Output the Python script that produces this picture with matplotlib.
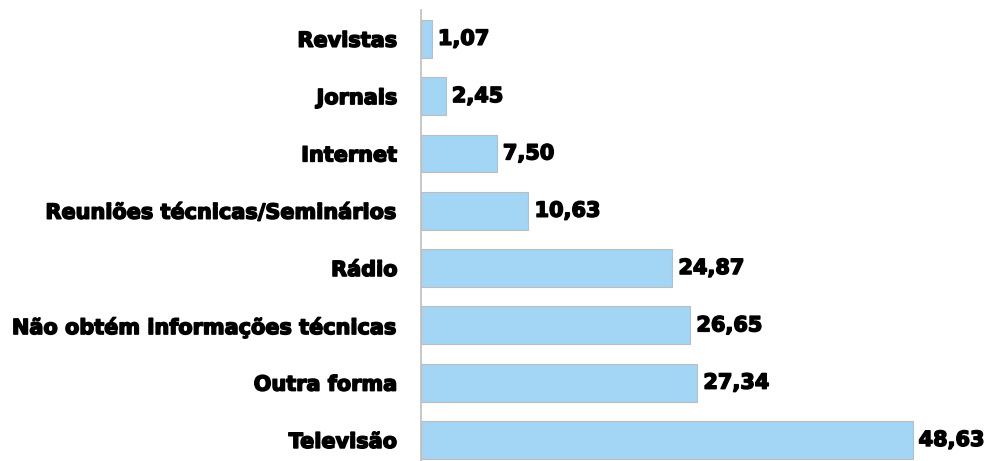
import matplotlib
matplotlib.use("Agg")
import matplotlib.pyplot as plt
import matplotlib.patheffects as pe

categories = ["Revistas", "Jornais", "Internet", "Reuniões técnicas/Seminários",
              "Rádio", "Não obtém informações técnicas", "Outra forma", "Televisão"]
values = [1.07, 2.45, 7.50, 10.63, 24.87, 26.65, 27.34, 48.63]
labels = ["1,07", "2,45", "7,50", "10,63", "24,87", "26,65", "27,34", "48,63"]

plt.rcParams['font.family'] = ['DejaVu Sans']
heavy = [pe.withStroke(linewidth=1.1, foreground="black")]

fig = plt.figure(figsize=(9.87, 4.61), dpi=100)
ax = fig.add_axes([0.4266, -0.0165, 0.5734, 0.9945])

y = list(range(len(categories)))
ax.barh(y, values, height=0.66, color="#A3D5F5", edgecolor="#BDBDBD", linewidth=0.8)
for yi, v, lab in zip(y, values, labels):
    ax.text(v + 0.6, yi, lab, va="center", ha="left", fontsize=15,
            fontweight="bold", path_effects=heavy)

ax.set_yticks(y)
ax.set_yticklabels(categories, fontsize=15, fontweight="bold", path_effects=heavy)
ax.tick_params(axis="y", length=0, pad=17)
ax.set_xticks([])
ax.set_xlim(0, 56.0)
ax.set_ylim(len(categories) - 0.5, -0.5)
for s in ["top", "right", "bottom"]:
    ax.spines[s].set_visible(False)
ax.spines["left"].set_color("#BFBFBF")
ax.spines["left"].set_linewidth(1.2)

fig.savefig("out.png", dpi=100)
